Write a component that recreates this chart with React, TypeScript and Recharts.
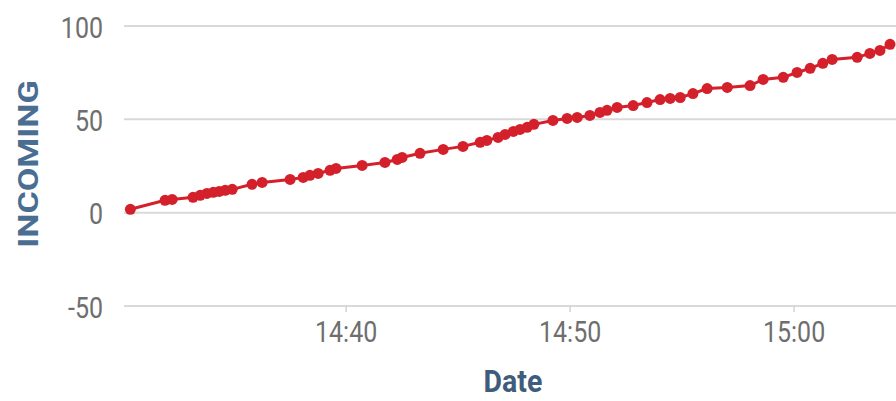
import React from "react";
import { LineChart, Line, XAxis, YAxis, CartesianGrid, Label } from "recharts";

// Sample times (hh:mm:ss) and INCOMING values
const TIMES: string[] = [
  "14:30:22", "14:31:55", "14:32:14", "14:33:10", "14:33:29", "14:33:47", "14:34:04", "14:34:20",
  "14:34:36", "14:34:55", "14:35:48", "14:36:15", "14:37:30", "14:38:05", "14:38:23", "14:38:45",
  "14:39:17", "14:39:33", "14:40:43", "14:41:44", "14:42:17", "14:42:30", "14:43:18", "14:44:20",
  "14:45:13", "14:45:59", "14:46:17", "14:46:47", "14:47:06", "14:47:28", "14:47:46", "14:48:05",
  "14:48:23", "14:49:14", "14:49:52", "14:50:19", "14:50:53", "14:51:20", "14:51:39", "14:52:06",
  "14:52:49", "14:53:26", "14:54:01", "14:54:28", "14:54:55", "14:55:29", "14:56:07", "14:57:01",
  "14:58:02", "14:58:37", "14:59:31", "15:00:08", "15:00:43", "15:01:17", "15:01:42", "15:02:49",
  "15:03:23", "15:03:50", "15:04:17",
];
const INCOMING: number[] = [
  1.8, 6.6, 7.1, 8.2, 9.3, 10.3, 10.9, 11.4,
  12.0, 12.5, 15.2, 16.2, 17.8, 18.9, 20.0, 21.0,
  22.7, 23.7, 25.3, 26.9, 28.5, 29.6, 31.8, 33.9,
  35.5, 37.7, 38.7, 40.3, 41.9, 43.5, 44.6, 45.7,
  47.3, 49.4, 50.5, 51.0, 52.1, 53.7, 54.8, 56.4,
  57.4, 59.0, 60.6, 61.2, 61.7, 63.8, 66.5, 67.1,
  68.1, 71.4, 72.5, 75.1, 77.3, 80.0, 82.1, 83.2,
  85.3, 86.9, 90.2,
];
const X_TICK_LABELS: string[] = ["14:40", "14:50", "15:00"];
const Y_TICKS: number[] = [-50, 0, 50, 100];
const X_START = "14:30:05";
const X_END = "15:04:33";

const BASE = 14 * 60 + 30;
const toMin = (s: string): number => {
  const [h, m, sec] = s.split(":").map(Number);
  return h * 60 + m + (sec || 0) / 60 - BASE;
};

const data = TIMES.map((t, i) => ({ t: toMin(t), v: INCOMING[i] }));
const xTicks = X_TICK_LABELS.map(toMin);

const RED = "#d4202a";
const TICK_COLOR = "#6e6e6e";
const TITLE_COLOR = "#3f5c7c";
const FONT = "Roboto, 'Open Sans', sans-serif";
const STRETCH = 1.2;

const XTick = (props: any) => {
  const { x, y, payload } = props;
  const idx = xTicks.findIndex((v) => Math.abs(v - payload.value) < 1e-6);
  const label = idx >= 0 ? X_TICK_LABELS[idx] : "";
  return (
    <g transform={`translate(${x},${y + 19.5})`}>
      <text
        transform={`scale(1,${STRETCH})`}
        textAnchor="middle"
        dy="0.355em"
        fill={TICK_COLOR}
        fontFamily={FONT}
        fontSize={25}
      >
        {label}
      </text>
    </g>
  );
};

const YTick = (props: any) => {
  const { x, y, payload } = props;
  return (
    <g transform={`translate(${x - 21},${y + 1})`}>
      <text
        transform={`scale(1,${STRETCH})`}
        textAnchor="end"
        dy="0.355em"
        fill={TICK_COLOR}
        fontFamily={FONT}
        fontSize={25}
      >
        {payload.value}
      </text>
    </g>
  );
};

const DateLabel = (props: any) => {
  const vb = props.viewBox || { x: 124, y: 306, width: 772, height: 95 };
  const cx = vb.x + vb.width / 2 + 3;
  const cy = vb.y + 75;
  return (
    <g transform={`translate(${cx},${cy})`}>
      <text
        transform="scale(1,1.1)"
        textAnchor="middle"
        dy="0.355em"
        fill={TITLE_COLOR}
        fontFamily={FONT}
        fontWeight="bold"
        fontSize={28.5}
      >
        Date
      </text>
    </g>
  );
};

const IncomingLabel = (props: any) => {
  const vb = props.viewBox || { x: 0, y: 26, width: 124, height: 280 };
  const cx = vb.x + 28;
  const cy = vb.y + vb.height / 2 - 2;
  return (
    <g transform={`translate(${cx},${cy}) scale(1,${STRETCH}) rotate(-90)`}>
      <text
        textAnchor="middle"
        dy="0.355em"
        fill="#4a6d92"
        fontFamily={FONT}
        fontWeight="bold"
        fontSize={28.5}
      >
        INCOMING
      </text>
    </g>
  );
};

export default function App() {
  return (
    <div style={{ position: "fixed", left: 0, top: 0, width: 896, height: 401, background: "#fff" }}>
      <LineChart
        width={896}
        height={401}
        data={data}
        margin={{ top: 26, right: 0, bottom: 0, left: 0 }}
      >
        <CartesianGrid vertical={false} stroke="#d9d9d9" strokeWidth={2} />
        <XAxis
          dataKey="t"
          type="number"
          domain={[toMin(X_START), toMin(X_END)]}
          ticks={xTicks}
          allowDataOverflow
          height={95}
          axisLine={false}
          tickLine={{ stroke: "#d3d3d3", strokeWidth: 1.5 }}
          tickSize={6}
          tickMargin={0}
          tick={<XTick />}
        >
          <Label content={<DateLabel />} />
        </XAxis>
        <YAxis
          type="number"
          domain={[-50, 100]}
          ticks={Y_TICKS}
          width={124}
          axisLine={false}
          tickLine={false}
          tickSize={0}
          tickMargin={0}
          tick={<YTick />}
        >
          <Label content={<IncomingLabel />} />
        </YAxis>
        <Line
          type="linear"
          dataKey="v"
          stroke={RED}
          strokeWidth={3}
          dot={{ r: 5.5, fill: RED, stroke: RED, strokeWidth: 0 }}
          activeDot={false}
          isAnimationActive={false}
        />
      </LineChart>
    </div>
  );
}
